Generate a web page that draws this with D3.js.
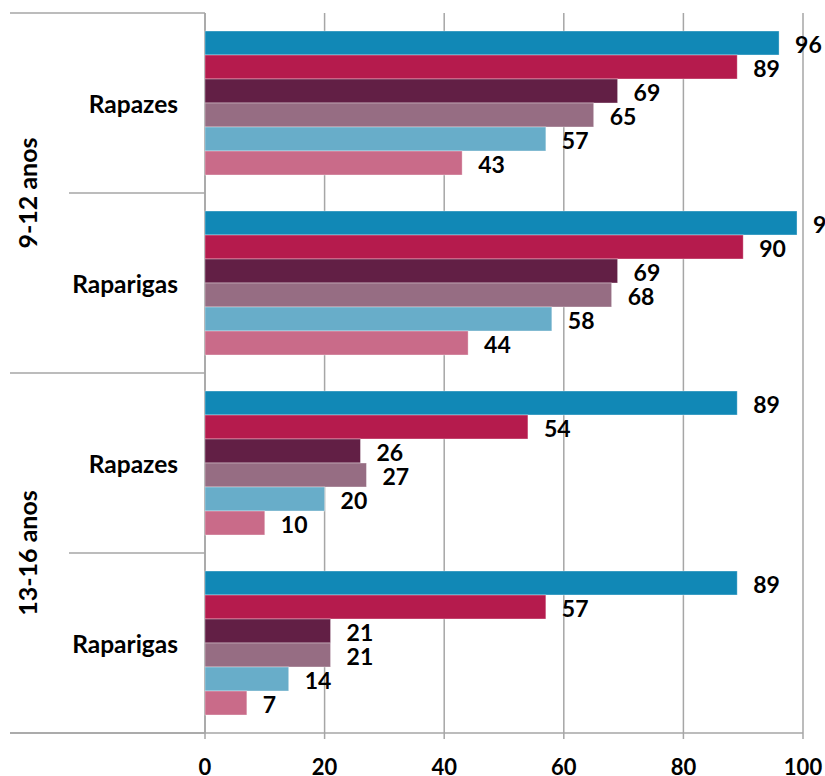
<!DOCTYPE html>
<html>
<head>
<meta charset="utf-8">
<script src="https://cdn.jsdelivr.net/npm/d3@7"></script>
<style>
  html, body { margin: 0; padding: 0; background: #fff; }
  svg { display: block; }
  text { font-family: Lato, "Open Sans", sans-serif; font-weight: bold; fill: #000; }
</style>
</head>
<body>
<svg id="chart" width="825" height="776"></svg>
<script>
// ---- data ----
const ageGroups = ["9-12 anos", "13-16 anos"];
const categories = ["Rapazes", "Raparigas", "Rapazes", "Raparigas"];
const categoryGroup = [0, 0, 1, 1];
const seriesNames = ["S1", "S2", "S3", "S4", "S5", "S6"];
const seriesColors = ["#1188B6", "#B51B4D", "#621F45", "#966D83", "#68ADC9", "#C96B89"];
const seriesS1 = [96, 99, 89, 89];
const seriesS2 = [89, 90, 54, 57];
const seriesS3 = [69, 69, 26, 21];
const seriesS4 = [65, 68, 27, 21];
const seriesS5 = [57, 58, 20, 14];
const seriesS6 = [43, 44, 10, 7];
const seriesValues = [seriesS1, seriesS2, seriesS3, seriesS4, seriesS5, seriesS6];
const xTicks = [0, 20, 40, 60, 80, 100];

// ---- layout ----
const svg = d3.select("#chart");
const plotLeft = 205, plotRight = 803, plotTop = 13, plotBottom = 733;
const gridColor = "#A6A6A6";

const x = d3.scaleLinear().domain([0, 100]).range([plotLeft, plotRight]);
const y = d3.scaleBand().domain(d3.range(categories.length)).range([plotTop, plotBottom])
  .paddingInner(0.2).paddingOuter(0.1);
const ySub = d3.scaleBand().domain(d3.range(seriesNames.length)).range([0, y.bandwidth()]);

// gridlines
svg.append("g").selectAll("line").data(xTicks).join("line")
  .attr("x1", d => x(d)).attr("x2", d => x(d))
  .attr("y1", plotTop).attr("y2", plotBottom + 6)
  .attr("stroke", gridColor).attr("stroke-width", 1.5);

// category axis line
svg.append("line").attr("x1", plotLeft).attr("x2", plotLeft).attr("y1", plotTop).attr("y2", plotBottom)
  .attr("stroke", gridColor).attr("stroke-width", 1.5);

// category separators
const step = y.step();
const boundaries = d3.range(categories.length + 1).map(i => ({
  y: plotTop + i * step,
  outer: i === 0 || i === categories.length || categoryGroup[i] !== categoryGroup[i - 1]
}));
svg.append("g").selectAll("line").data(boundaries).join("line")
  .attr("x1", d => d.outer ? 10 : 69).attr("x2", plotLeft)
  .attr("y1", d => d.y).attr("y2", d => d.y)
  .attr("stroke", gridColor).attr("stroke-width", 1.5);

// bottom value axis line
svg.append("line").attr("x1", 10).attr("x2", plotRight).attr("y1", plotBottom).attr("y2", plotBottom)
  .attr("stroke", gridColor).attr("stroke-width", 1.5);

// bars
const barData = [];
categories.forEach((c, ci) => {
  seriesValues.forEach((vals, si) => {
    barData.push({ ci, si, v: vals[ci] });
  });
});
svg.append("g").selectAll("rect").data(barData).join("rect")
  .attr("x", x(0))
  .attr("y", d => y(d.ci) + ySub(d.si))
  .attr("width", d => x(d.v) - x(0))
  .attr("height", ySub.bandwidth())
  .attr("fill", d => seriesColors[d.si])
  .attr("stroke", "#ffffff").attr("stroke-opacity", 0.45).attr("stroke-width", 0.8);

// value labels
svg.append("g").selectAll("text").data(barData).join("text")
  .attr("x", d => x(d.v) + 16)
  .attr("y", d => y(d.ci) + ySub(d.si) + ySub.bandwidth() / 2 + 1)
  .attr("dominant-baseline", "central")
  .attr("font-size", 23)
  .text(d => d.v);

// category labels
svg.append("g").selectAll("text").data(categories).join("text")
  .attr("x", 178)
  .attr("y", (d, i) => plotTop + i * step + step / 2)
  .attr("text-anchor", "end")
  .attr("dominant-baseline", "central")
  .attr("font-size", 24.5)
  .text(d => d);

// age group labels
svg.append("g").selectAll("text").data(ageGroups).join("text")
  .attr("transform", (d, gi) => {
    const idx = categoryGroup.map((g, i) => g === gi ? i : -1).filter(i => i >= 0);
    const cy = plotTop + (idx[0] * step + (idx[idx.length - 1] + 1) * step) / 2;
    return `translate(37,${cy}) rotate(-90)`;
  })
  .attr("text-anchor", "middle")
  .attr("font-size", 25)
  .text(d => d);

// x tick labels
svg.append("g").selectAll("text").data(xTicks).join("text")
  .attr("x", d => x(d))
  .attr("y", 766)
  .attr("text-anchor", "middle")
  .attr("dominant-baseline", "central")
  .attr("font-size", 22)
  .text(d => d);
</script>
</body>
</html>
